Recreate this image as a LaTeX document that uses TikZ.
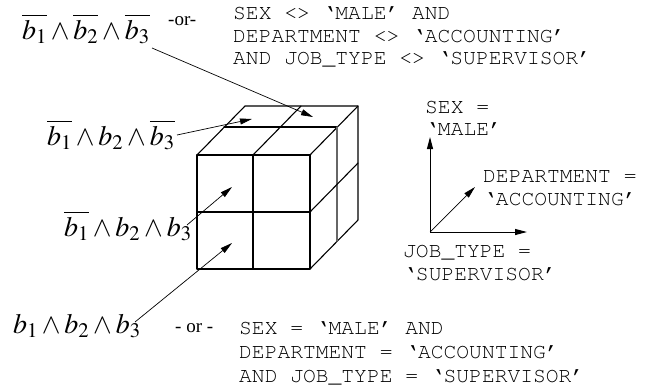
\documentclass[tikz,border=0pt]{standalone}
\usepackage[T1]{fontenc}
\usepackage{mathptmx}
\usepackage{fontspec}
\usetikzlibrary{arrows.meta}
\newfontfamily\timesfont{Liberation Serif}
\newcommand\courfont{\fontencoding{T1}\fontfamily{pcr}\fontseries{m}\fontshape{n}\selectfont}
\tikzset{
  cubeedge/.style={line width=1.1pt, line cap=round, line join=round},
  pointer/.style={line width=0.7pt, -{Triangle[length=12pt,width=6pt]}},
  axis/.style={line width=1pt, -{Triangle[length=12pt,width=6pt]}},
  code/.style={font=\fontsize{21.3}{22}\courfont, anchor=base west, inner sep=0pt},
  mathlbl/.style={font=\fontsize{28}{30}\selectfont, anchor=base west, inner sep=0pt},
  orlbl/.style={font=\timesfont\fontsize{19}{21}\selectfont, anchor=base west, inner sep=0pt}
}
\begin{document}
\begin{tikzpicture}[x=1pt,y=-1pt]
\useasboundingbox (0,0) rectangle (650,391);
% cube
\draw[cubeedge] (197,155) rectangle (310,269);
\draw[cubeedge] (253,155) -- (253,269);
\draw[cubeedge] (197,212) -- (310,212);
\draw[cubeedge] (197,155) -- (245,106) -- (358,106) -- (358,220) -- (310,269);
\draw[cubeedge] (253,155) -- (301,106);
\draw[cubeedge] (310,155) -- (358,106);
\draw[cubeedge] (224,127) -- (337,127);
\draw[cubeedge, black!60] (337,127) -- (337,241);
\draw[cubeedge] (310,212) -- (358,163);
% labels
\node[mathlbl] (l1) at (22,39) {$\overline{b_1}\wedge\overline{b_2}\wedge\overline{b_3}$};
\node[orlbl] (or1) at (168,25) {-or-};
\node[code] (t1) at (233,19.5) {SEX <> `MALE' AND};
\node[code] (t2) at (233,42) {DEPARTMENT <> `ACCOUNTING'};
\node[code] (t3) at (233,64.5) {AND JOB\_TYPE <> `SUPERVISOR'};
\node[mathlbl] (l2) at (47,145) {$\overline{b_1}\wedge b_2\wedge\overline{b_3}$};
\node[mathlbl] (l3) at (64,236) {$\overline{b_1}\wedge b_2\wedge b_3$};
\node[mathlbl] (l4) at (13,333) {$b_1\wedge b_2\wedge b_3$};
\node[orlbl] (or2) at (175,332) {- or -};
\node[code] (u1) at (239,334) {SEX = `MALE' AND};
\node[code] (u2) at (239,358) {DEPARTMENT = `ACCOUNTING'};
\node[code] (u3) at (239,382) {AND JOB\_TYPE = `SUPERVISOR'};
% axes labels
\node[code] (a1) at (425,113) {SEX =};
\node[code] (a2) at (425,135.5) {`MALE'};
\node[code] (a3) at (483,182) {DEPARTMENT =};
\node[code] (a4) at (483,205) {`ACCOUNTING'};
\node[code] (a5) at (403,257) {JOB\_TYPE =};
\node[code] (a6) at (403,280) {`SUPERVISOR'};
% axes
\coordinate (o) at (430,232);
\coordinate (ax) at (527,232);
\coordinate (ay) at (430,137);
\coordinate (az) at (475,187);
\draw[axis] (o) -- (ay);
\draw[axis] (o) -- (ax);
\draw[line width=0.7pt, -{Triangle[length=12pt,width=6pt]}] (o) -- (az);
% pointers
\coordinate (s1) at (152,48);  \coordinate (e1) at (313,117);
\coordinate (s2) at (177,135); \coordinate (e2) at (252,119);
\coordinate (s3) at (187,225); \coordinate (e3) at (232,187);
\coordinate (s4) at (135,322); \coordinate (e4) at (232,243);
\draw[pointer] (s1) -- (e1);
\draw[pointer] (s2) -- (e2);
\draw[pointer] (s3) -- (e3);
\draw[pointer] (s4) -- (e4);
\end{tikzpicture}
\end{document}
